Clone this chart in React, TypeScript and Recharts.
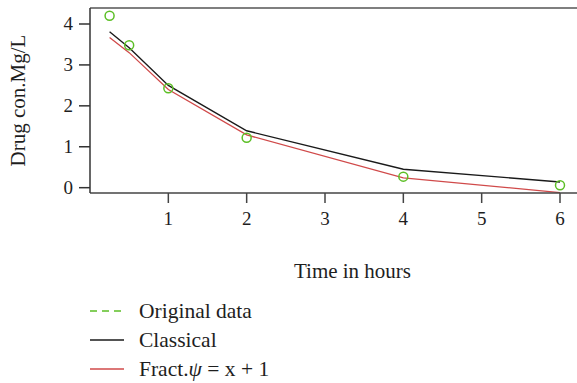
import React from 'react';
import { ComposedChart, Line, XAxis, YAxis, ReferenceLine, Legend } from 'recharts';

const times = [0.25, 0.5, 1, 2, 4, 6];
const originalData = [4.2, 3.48, 2.43, 1.22, 0.27, 0.06];
const classical = [3.81, 3.42, 2.5, 1.39, 0.45, 0.14];
const fractional = [3.67, 3.3, 2.4, 1.29, 0.24, -0.12];
const xTicks = [1, 2, 3, 4, 5, 6];
const yTicks = [0, 1, 2, 3, 4];
const legendLabels = ['Original data', 'Classical', 'Fract.|\u03C8| = x + 1'];

const GREEN = '#5cbf26';
const BLACK = '#1a1a1a';
const RED = '#d04a4a';
const FONT = '"Liberation Serif", "Times New Roman", serif';

const data = times.map((t, i) => ({
  t,
  orig: originalData[i],
  classical: classical[i],
  fract: fractional[i],
}));

const X_MAX = 6.217;
const Y_MIN = -0.13;
const Y_MAX = 4.391;

const legendStyles = [
  { color: GREEN, dash: '7 5' },
  { color: BLACK, dash: undefined },
  { color: RED, dash: undefined },
];

const renderLabel = (label: string) => {
  const parts = label.split('|');
  return parts.map((p, j) => (
    <tspan key={j} fontStyle={j % 2 === 1 ? 'italic' : 'normal'}>
      {p}
    </tspan>
  ));
};

const LegendContent = () => (
  <svg width={320} height={93} style={{ display: 'block' }}>
    {legendLabels.map((label, i) => {
      const y = 21 + i * 29;
      return (
        <g key={label}>
          <line x1={10} x2={44} y1={y} y2={y} stroke={legendStyles[i].color} strokeWidth={1.3} strokeDasharray={legendStyles[i].dash} />
          <text x={59} y={y + 7} fontFamily={FONT} fontSize={21.5} fill="#1e1e1e">
            {renderLabel(label)}
          </text>
        </g>
      );
    })}
  </svg>
);

const YLabel = (props: any) => {
  const vb = props.viewBox || { x: 0, y: 8, width: 90, height: 185 };
  const cy = vb.y + vb.height / 2;
  return (
    <text x={25} y={cy} transform={`rotate(-90, 25, ${cy})`} textAnchor="middle" fontFamily={FONT} fontSize={21} fill="#1e1e1e">
      Drug con.Mg/L
    </text>
  );
};

const XLabel = (props: any) => {
  const vb = props.viewBox || { x: 90, y: 193, width: 487, height: 190 };
  const cx = vb.x + vb.width / 2 + 19;
  return (
    <text x={cx} y={vb.y + 85} textAnchor="middle" fontFamily={FONT} fontSize={21} fill="#1e1e1e">
      Time in hours
    </text>
  );
};

const XTick = (props: any) => {
  const { x, y, payload } = props;
  return (
    <text x={x} y={y} dy={13.5} textAnchor="middle" fontFamily={FONT} fontSize={19} fill="#1e1e1e">
      {payload.value}
    </text>
  );
};

const YTick = (props: any) => {
  const { x, y, payload } = props;
  return (
    <text x={x} y={y} dy={6.5} textAnchor="end" fontFamily={FONT} fontSize={19} fill="#1e1e1e">
      {payload.value}
    </text>
  );
};

export default function App() {
  return (
    <div style={{ position: 'absolute', left: 0, top: 0, width: 577, height: 383, background: '#fff' }}>
      <ComposedChart width={577} height={383} data={data} margin={{ top: 8, right: 0, left: 0, bottom: 0 }}>
        <XAxis
          dataKey="t"
          type="number"
          domain={[0, X_MAX]}
          ticks={xTicks}
          allowDataOverflow
          height={190}
          tickSize={10}
          tickMargin={8}
          stroke="#444"
          strokeWidth={1.5}
          tick={<XTick />}
          label={<XLabel />}
        />
        <YAxis
          type="number"
          domain={[Y_MIN, Y_MAX]}
          ticks={yTicks}
          allowDataOverflow
          width={90}
          tickSize={11}
          tickMargin={6}
          stroke="#333"
          strokeWidth={1.5}
          tick={<YTick />}
          label={<YLabel />}
        />
        <ReferenceLine y={Y_MAX} stroke="#555" strokeWidth={1.5} />
        <Line type="linear" dataKey="classical" stroke={BLACK} strokeWidth={1.4} dot={false} isAnimationActive={false} />
        <Line type="linear" dataKey="fract" stroke={RED} strokeWidth={1.3} dot={false} isAnimationActive={false} />
        <Line
          type="linear"
          dataKey="orig"
          stroke="none"
          dot={{ r: 4.5, fill: 'none', stroke: GREEN, strokeWidth: 1.5 }}
          isAnimationActive={false}
        />
        <Legend
          layout="vertical"
          align="center"
          verticalAlign="middle"
          content={<LegendContent />}
          wrapperStyle={{ position: 'absolute', left: 80, top: 290, width: 320, height: 93 }}
        />
      </ComposedChart>
    </div>
  );
}
